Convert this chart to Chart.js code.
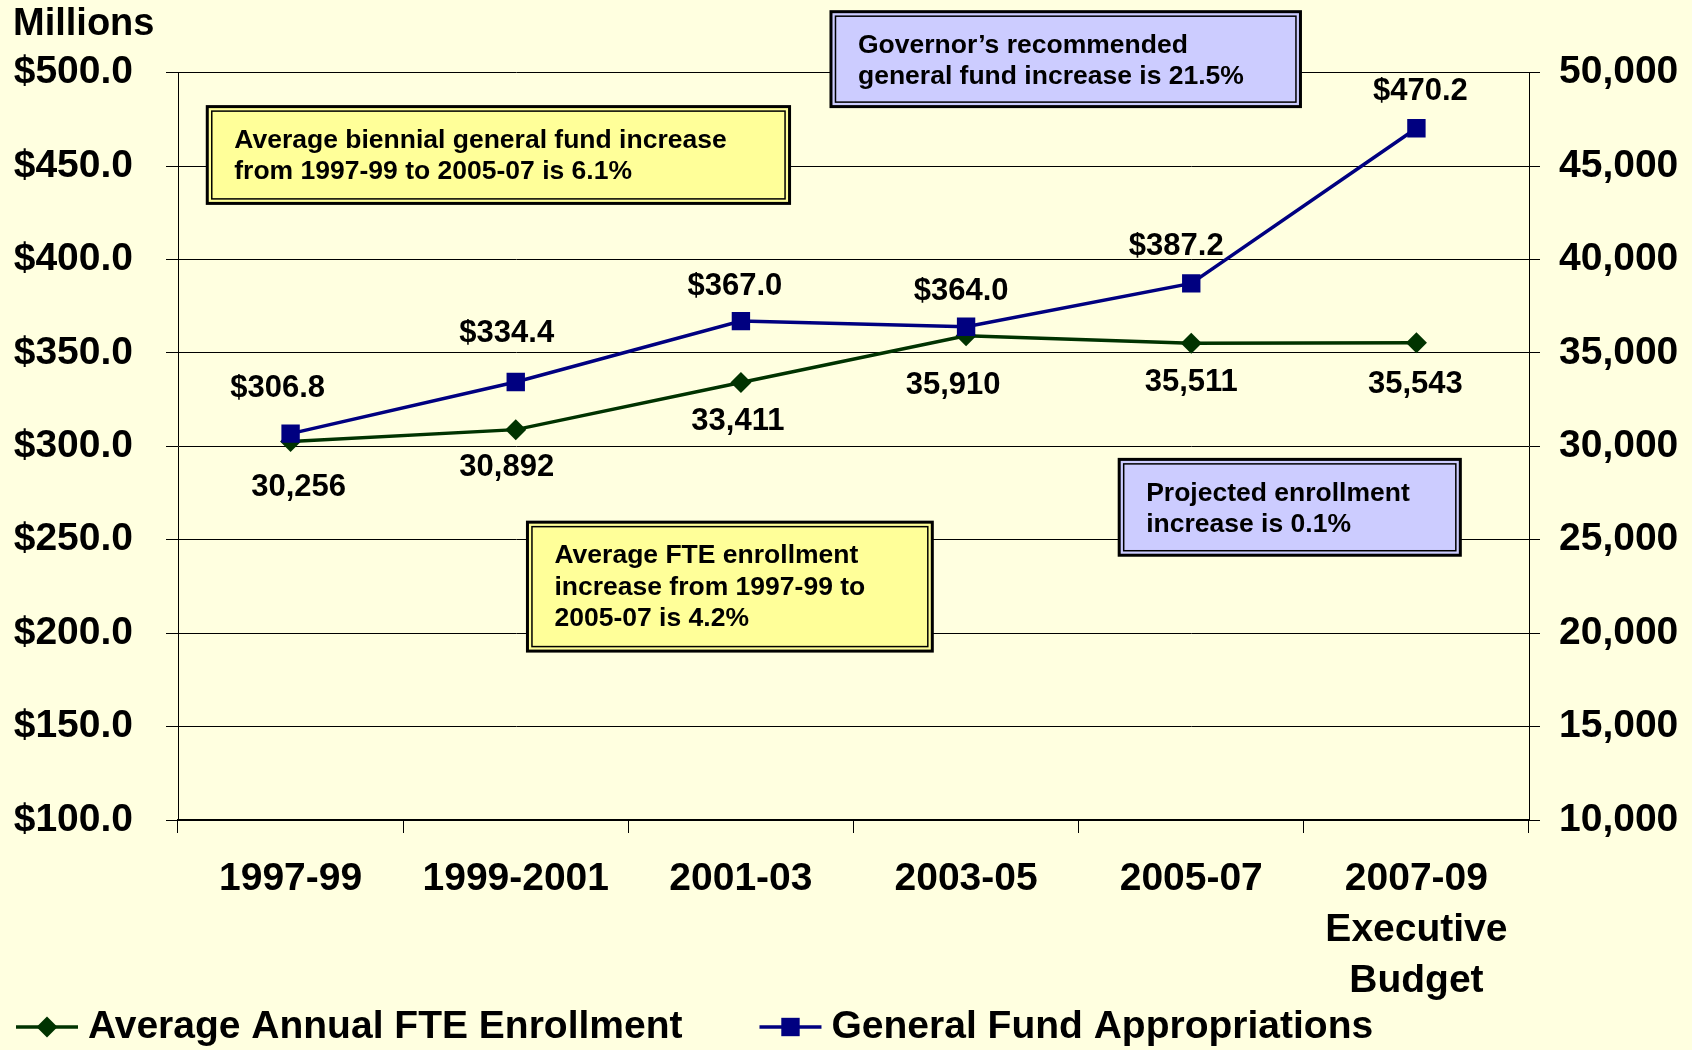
<!DOCTYPE html>
<html>
<head>
<meta charset="utf-8">
<script src="https://cdn.jsdelivr.net/npm/chart.js@4.4.0/dist/chart.umd.min.js"></script>
<style>
  html, body { margin: 0; padding: 0; background: #FFFFE0; }
</style>
</head>
<body>
<canvas id="myChart" width="1692" height="1050"></canvas>
<script>
var biennia = ['1997-99', '1999-2001', '2001-03', '2003-05', '2005-07', ['2007-09', 'Executive', 'Budget']];
var enrollment = [30256, 30892, 33411, 35910, 35511, 35543];
var appropriations = [306.8, 334.4, 367.0, 364.0, 387.2, 470.2];
var dollarRange = [100, 500, 50];
var fteRange = [10000, 50000, 5000];

// callout boxes, placed in axis units (x = category index, y = $ millions)
var notes = [
  {lines: ['Average biennial general fund increase', 'from 1997-99 to 2005-07 is 6.1%'], fill: '#FFFF99', x0: -0.37, x1: 2.216, y0: 481.8, y1: 430},
  {lines: ['Governor\u2019s recommended', 'general fund increase is 21.5%'], fill: '#CCCCFF', x0: 2.40, x1: 4.485, y0: 532.6, y1: 481.8},
  {lines: ['Projected enrollment', 'increase is 0.1%'], fill: '#CCCCFF', x0: 3.68, x1: 5.195, y0: 293, y1: 241.7},
  {lines: ['Average FTE enrollment', 'increase from 1997-99 to', '2005-07 is 4.2%'], fill: '#FFFF99', x0: 1.052, x1: 2.85, y0: 259.4, y1: 190.4}
];

var FONT = '"Liberation Sans", Arial, sans-serif';
Chart.defaults.font.family = FONT;
Chart.defaults.font.weight = 'bold';
Chart.defaults.color = '#000';

var callouts = {
  id: 'callouts',
  beforeDatasetsDraw: function(chart) {
    var ctx = chart.ctx, sx = chart.scales.x, sy = chart.scales.y;
    ctx.save();
    notes.forEach(function(n) {
      var l = sx.getPixelForValue(n.x0), r = sx.getPixelForValue(n.x1);
      var t = sy.getPixelForValue(n.y0), b = sy.getPixelForValue(n.y1);
      ctx.fillStyle = n.fill;
      ctx.fillRect(l, t, r - l, b - t);
      ctx.strokeStyle = '#000';
      ctx.lineWidth = 3;
      ctx.strokeRect(l, t, r - l, b - t);
      ctx.lineWidth = 1.5;
      ctx.strokeRect(l + 4.5, t + 4.5, r - l - 9, b - t - 9);
      ctx.fillStyle = '#000';
      ctx.font = 'bold 26.5px ' + FONT;
      ctx.textBaseline = 'middle';
      n.lines.forEach(function(s, i) {
        ctx.fillText(s, l + 27, t + 34 + i * 31.5);
      });
    });
    ctx.restore();
  }
};

var pointLabels = {
  id: 'pointLabels',
  afterDatasetsDraw: function(chart) {
    var ctx = chart.ctx;
    ctx.save();
    ctx.font = 'bold 31px ' + FONT;
    ctx.fillStyle = '#000';
    ctx.textAlign = 'center';
    ctx.textBaseline = 'middle';
    chart.data.datasets.forEach(function(ds, i) {
      chart.getDatasetMeta(i).data.forEach(function(pt, j) {
        ctx.fillText(ds.labelFormat(ds.data[j]), pt.x + ds.labelDx[j], pt.y + ds.labelDy[j]);
      });
    });
    ctx.restore();
  }
};

function marker(ctx, style, x, y, r, color) {
  ctx.fillStyle = color;
  ctx.beginPath();
  if (style === 'rectRot') {
    ctx.moveTo(x - r, y); ctx.lineTo(x, y - r); ctx.lineTo(x + r, y); ctx.lineTo(x, y + r);
  } else {
    var h = r * Math.SQRT1_2;
    ctx.rect(x - h, y - h, 2 * h, 2 * h);
  }
  ctx.closePath();
  ctx.fill();
}

var lineLegend = {
  id: 'lineLegend',
  afterDraw: function(chart) {
    var ctx = chart.ctx, x = 16, y = chart.height - 23;
    ctx.save();
    ctx.font = 'bold 39px ' + FONT;
    ctx.textBaseline = 'middle';
    chart.data.datasets.forEach(function(ds) {
      ctx.strokeStyle = ds.borderColor;
      ctx.lineWidth = 3.5;
      ctx.beginPath(); ctx.moveTo(x, y); ctx.lineTo(x + 62, y); ctx.stroke();
      marker(ctx, ds.pointStyle, x + 31, y, ds.pointRadius, ds.backgroundColor);
      ctx.fillStyle = '#000';
      ctx.fillText(ds.label, x + 72, y);
      x += 72 + ctx.measureText(ds.label).width + 77;
    });
    ctx.restore();
  }
};

var ctx = document.getElementById('myChart').getContext('2d');
var myChart = new Chart(ctx, {
  type: 'line',
  data: {
    labels: biennia,
    datasets: [{
      label: 'Average Annual FTE Enrollment',
      data: enrollment,
      yAxisID: 'y1',
      borderColor: '#003300',
      backgroundColor: '#003300',
      borderWidth: 3.5,
      pointStyle: 'rectRot',
      pointRadius: 10.5,
      pointBorderWidth: 0,
      order: 1,
      labelDx: [8, -9, -3, -13, 0, -1],
      labelDy: [46, 38, 39, 50, 39, 42],
      labelFormat: function(v) { return v.toLocaleString('en-US'); }
    }, {
      label: 'General Fund Appropriations',
      data: appropriations,
      yAxisID: 'y',
      borderColor: '#000080',
      backgroundColor: '#000080',
      borderWidth: 3.5,
      pointStyle: 'rect',
      pointRadius: 13,
      pointBorderWidth: 0,
      order: 0,
      labelDx: [-13, -9, -6, -5, -15, 4],
      labelDy: [-45, -49, -35, -35, -37, -37],
      labelFormat: function(v) { return '$' + v.toFixed(1); }
    }]
  },
  options: {
    responsive: false,
    animation: false,
    layout: { padding: { left: 13, right: 0, top: 0, bottom: 45 } },
    plugins: {
      legend: { display: false },
      tooltip: { enabled: false },
      title: {
        display: true,
        text: 'Millions',
        align: 'start',
        color: '#000',
        font: { size: 38, weight: 'bold' },
        padding: { top: 2, bottom: 25 }
      }
    },
    scales: {
      x: {
        offset: true,
        grid: { offset: true, drawOnChartArea: false, color: '#000', tickLength: 13 },
        border: { color: '#000', width: 2 },
        ticks: { autoSkip: false, maxRotation: 0, padding: 21, color: '#000', font: { size: 39, lineHeight: 1.3 } },
        afterFit: function(s) { s.height = 185; }
      },
      y: {
        position: 'left',
        min: dollarRange[0], max: dollarRange[1],
        grid: { color: '#000', lineWidth: 1, tickLength: 12 },
        border: { color: '#000' },
        ticks: {
          stepSize: dollarRange[2], padding: 33, color: '#000', font: { size: 39 },
          callback: function(v) { return '$' + v.toFixed(1); }
        },
        afterFit: function(s) { s.width = 165; }
      },
      y1: {
        position: 'right',
        min: fteRange[0], max: fteRange[1],
        grid: { drawOnChartArea: false, color: '#000', tickLength: 11 },
        border: { color: '#000' },
        ticks: {
          stepSize: fteRange[2], padding: 19, color: '#000', font: { size: 39 },
          callback: function(v) { return v.toLocaleString('en-US'); }
        },
        afterFit: function(s) { s.width = 163; }
      }
    }
  },
  plugins: [callouts, pointLabels, lineLegend]
});
</script>
</body>
</html>
